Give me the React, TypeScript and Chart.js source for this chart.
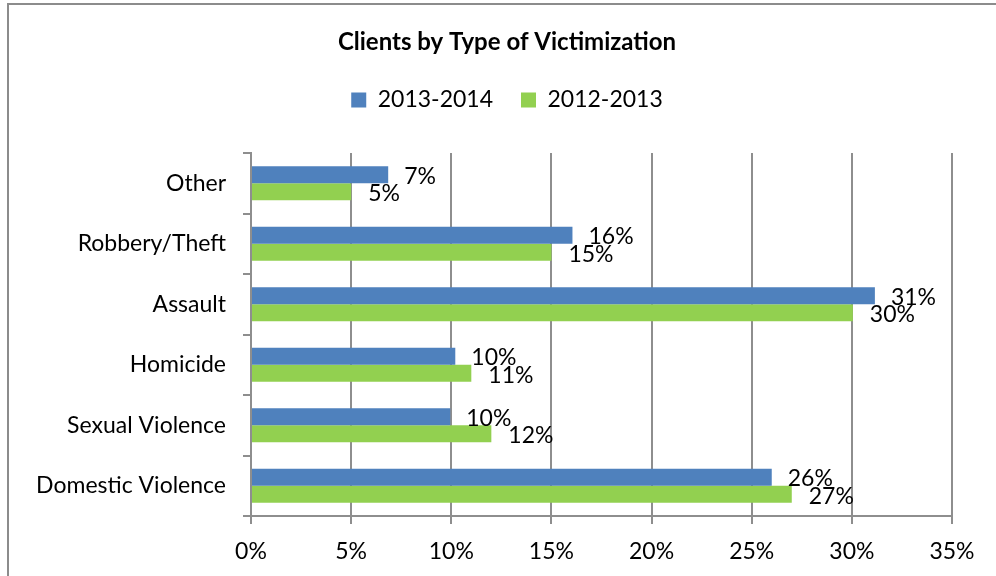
import React, { useEffect, useRef } from "react";
import { Chart, registerables } from "chart.js";

Chart.register(...registerables);

const categories = ["Other", "Robbery/Theft", "Assault", "Homicide", "Sexual Violence", "Domestic Violence"];
const series2013_2014 = [6.85, 16.05, 31.15, 10.2, 9.95, 26];
const series2012_2013 = [5, 15, 30.05, 11, 12, 27];
const seriesNames = ["2013-2014", "2012-2013"];
const xMin = 0;
const xMax = 35;
const xStep = 5;

const FONT = "Lato";
const GRID = "#8e8e8e";

const valueLabels = {
  id: "valueLabels",
  afterDatasetsDraw(chart: any) {
    const ctx = chart.ctx;
    ctx.save();
    ctx.font = `23px ${FONT}`;
    ctx.fillStyle = "#000";
    ctx.textBaseline = "middle";
    ctx.textAlign = "left";
    chart.data.datasets.forEach((ds: any, di: number) => {
      const meta = chart.getDatasetMeta(di);
      meta.data.forEach((bar: any, i: number) => {
        const v = ds.data[i];
        const dx = di === 0 ? 16 : 17;
        const dy = di === 0 ? 1.5 : 2;
        ctx.fillText(Math.round(v) + "%", bar.x + dx, bar.y + dy);
      });
    });
    ctx.restore();
  },
};

const legendSpacer = {
  id: "legendSpacer",
  beforeInit(chart: any) {
    const legend = chart.legend;
    if (!legend) return;
    const origFit = legend.fit;
    legend.fit = function () {
      origFit.call(this);
      this.height += 31.5;
    };
  },
};

export default function App() {
  const ref = useRef<HTMLCanvasElement | null>(null);
  useEffect(() => {
    if (!ref.current) return;
    const chart = new Chart(ref.current, {
      type: "bar",
      data: {
        labels: categories,
        datasets: [
          {
            label: seriesNames[0],
            data: series2013_2014,
            backgroundColor: "#4F81BD",
            categoryPercentage: 0.56,
            barPercentage: 1.0,
            xAxisID: "x",
            yAxisID: "y",
          },
          {
            label: seriesNames[1],
            data: series2012_2013,
            backgroundColor: "#92D050",
            categoryPercentage: 0.56,
            barPercentage: 1.0,
            xAxisID: "x",
            yAxisID: "y",
          },
        ],
      },
      plugins: [valueLabels, legendSpacer],
      options: {
        indexAxis: "y",
        animation: false,
        responsive: false,
        layout: { padding: { left: 18, right: 0, top: 0, bottom: 0 } },
        plugins: {
          title: {
            display: true,
            text: "Clients by Type of Victimization",
            color: "#000",
            font: { family: FONT, size: 24, weight: "bold" },
            padding: { top: 27.6, bottom: 4.1 },
          },
          legend: {
            display: true,
            position: "top",
            labels: {
              color: "#000",
              font: { family: FONT, size: 23 },
              boxWidth: 15,
              boxHeight: 15,
              padding: 28,
            },
          },
          tooltip: { enabled: false },
        },
        scales: {
          x: {
            min: xMin,
            max: xMax,
            ticks: {
              stepSize: xStep,
              color: "#000",
              font: { family: FONT, size: 23 },
              padding: 14,
              callback: (v: any) => v + "%",
            },
            grid: { color: GRID, lineWidth: 2, drawTicks: true, tickLength: 8 },
            border: { color: GRID, width: 2 },
            afterFit: (s: any) => {
              s.height = 60;
            },
          },
          y: {
            type: "category",
            position: "left",
            ticks: {
              color: "#000",
              font: { family: FONT, size: 23 },
              padding: 17,
            },
            grid: {
              display: true,
              drawOnChartArea: false,
              drawTicks: true,
              tickLength: 8,
              lineWidth: 2,
              color: GRID,
              offset: true,
            },
            border: { color: GRID, width: 2 },
            afterFit: (s: any) => {
              s.width = 233;
            },
          },
          yRightSpace: {
            type: "linear",
            position: "right",
            display: true,
            ticks: { display: false },
            grid: { display: false, drawTicks: false },
            border: { display: false },
            afterFit: (s: any) => {
              s.width = 44;
            },
          },
        },
      },
    });
    return () => chart.destroy();
  }, []);

  return (
    <div
      style={{
        position: "absolute",
        left: 0,
        top: 0,
        width: 996,
        height: 576,
        overflow: "hidden",
        background: "#fff",
      }}
    >
      <canvas ref={ref} width={996} height={576} style={{ position: "absolute", left: 0, top: 0 }} />
      <div
        style={{
          position: "absolute",
          left: 7,
          top: 3,
          width: 1200,
          height: 1200,
          borderTop: "2px solid #8c8c8c",
          borderLeft: "2px solid #8c8c8c",
          pointerEvents: "none",
        }}
      />
    </div>
  );
}
